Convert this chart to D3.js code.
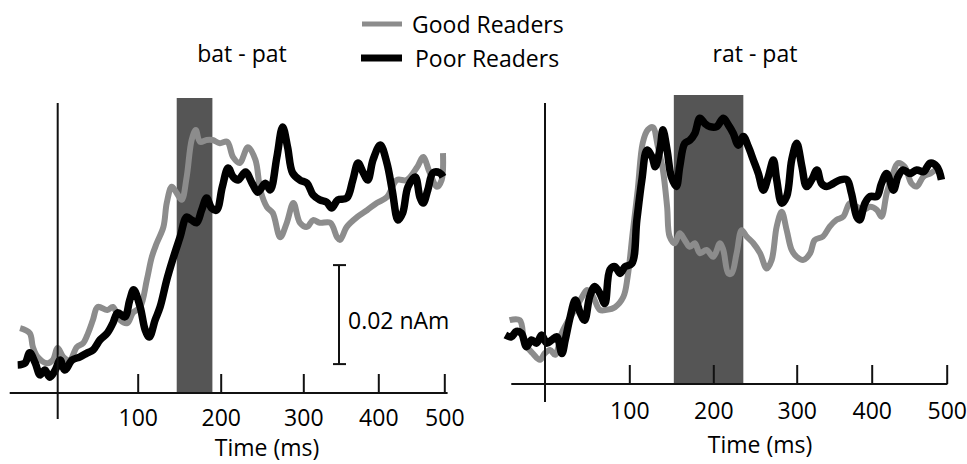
<!DOCTYPE html>
<html>
<head>
<meta charset="utf-8">
<script src="https://cdn.jsdelivr.net/npm/d3@7"></script>
<style>
  body { margin: 0; background: #fff; }
  text { font-family: "Open Sans", sans-serif; fill: #000; }
</style>
</head>
<body>
<div id="wrapper"></div>
<script>
// time in ms, amplitude in nAm
const tickValues = [100, 200, 300, 400, 500];
const seriesNames = ["Good Readers", "Poor Readers"];

// bat - pat
const batGoodTime = [-47,-35,-31,-25,-13,-6,0,7,15,24,32,38,44,50,62,69,78,87,94,103,111,117,123,131,135,141,147,153,159,165,170,175,183,190,199,208,215,223,233,242,248,256,263,272,280,288,296,305,313,322,336,345,349,358,372,385,398,413,428,443,459,468,478,489,496,498];
const batGoodVal = [0.0082,0.0071,0.0040,0.0018,0.0004,0.0011,0.0038,0.0018,0.0011,0.0040,0.0049,0.0071,0.0100,0.0129,0.0122,0.0129,0.0100,0.0093,0.0116,0.0129,0.0189,0.0240,0.0271,0.0307,0.0360,0.0396,0.0382,0.0367,0.0418,0.0500,0.0522,0.0496,0.0500,0.0500,0.0493,0.0496,0.0462,0.0449,0.0484,0.0456,0.0389,0.0351,0.0338,0.0284,0.0316,0.0360,0.0316,0.0307,0.0322,0.0316,0.0316,0.0284,0.0278,0.0307,0.0329,0.0344,0.0360,0.0373,0.0411,0.0411,0.0440,0.0462,0.0427,0.0396,0.0411,0.0471];
const batPoorTime = [-50,-41,-35,-28,-22,-16,-10,-3,3,9,18,28,37,44,53,62,69,75,84,90,95,103,109,114,121,127,135,142,151,159,165,171,177,183,189,195,202,209,215,221,230,238,245,254,260,268,275,281,287,296,305,313,322,331,338,346,358,366,373,380,386,393,403,413,421,430,437,445,456,463,468,475,483,493,498];
const batPoorVal = [0.0000,0.0004,0.0027,0.0004,-0.0022,-0.0011,-0.0027,-0.0011,0.0011,-0.0011,0.0011,0.0018,0.0027,0.0033,0.0056,0.0071,0.0093,0.0116,0.0107,0.0144,0.0167,0.0129,0.0078,0.0062,0.0100,0.0129,0.0189,0.0233,0.0284,0.0329,0.0322,0.0316,0.0344,0.0371,0.0349,0.0344,0.0396,0.0438,0.0418,0.0411,0.0429,0.0404,0.0384,0.0404,0.0389,0.0462,0.0529,0.0484,0.0427,0.0411,0.0404,0.0378,0.0367,0.0362,0.0349,0.0367,0.0371,0.0411,0.0449,0.0427,0.0411,0.0456,0.0489,0.0449,0.0389,0.0322,0.0338,0.0396,0.0418,0.0373,0.0360,0.0389,0.0427,0.0427,0.0418];
const batShade = [147, 190];

// rat - pat
const ratGoodTime = [-42,-30,-24,-15,-6,0,6,12,20,26,33,42,50,57,65,73,83,93,98,104,110,116,122,128,134,140,145,148,154,160,166,172,178,184,192,200,208,212,218,222,228,234,240,248,256,264,270,276,282,288,294,300,309,318,324,335,344,353,362,371,380,389,398,407,413,420,427,435,444,453,460,469,478,487,493];
const ratGoodVal = [0.0044,0.0044,-0.0007,-0.0029,-0.0044,-0.0029,-0.0022,-0.0033,0.0016,0.0038,0.0060,0.0089,0.0111,0.0096,0.0067,0.0067,0.0073,0.0096,0.0140,0.0238,0.0333,0.0438,0.0467,0.0473,0.0430,0.0378,0.0296,0.0230,0.0215,0.0237,0.0222,0.0207,0.0215,0.0193,0.0200,0.0185,0.0215,0.0200,0.0148,0.0148,0.0193,0.0244,0.0230,0.0215,0.0193,0.0159,0.0178,0.0252,0.0285,0.0244,0.0200,0.0185,0.0178,0.0193,0.0222,0.0230,0.0252,0.0267,0.0274,0.0304,0.0296,0.0289,0.0296,0.0289,0.0274,0.0326,0.0363,0.0393,0.0385,0.0348,0.0341,0.0363,0.0370,0.0378,0.0363];
const ratPoorTime = [-47,-40,-34,-28,-22,-16,-10,-4,2,8,14,20,24,30,36,42,47,53,59,65,71,77,83,89,95,103,109,115,121,127,131,137,140,145,150,156,160,166,172,178,184,190,196,204,212,218,224,230,236,242,248,254,260,266,272,276,282,288,294,300,307,313,320,327,333,340,349,358,367,373,380,384,391,398,407,413,420,429,435,442,451,460,469,478,487,493];
const ratPoorVal = [0.0011,0.0007,0.0019,0.0015,-0.0015,0.0000,-0.0007,0.0011,-0.0007,0.0000,0.0007,-0.0030,0.0000,0.0052,0.0089,0.0059,0.0044,0.0096,0.0119,0.0104,0.0081,0.0156,0.0163,0.0148,0.0163,0.0170,0.0267,0.0356,0.0422,0.0407,0.0385,0.0430,0.0467,0.0422,0.0363,0.0341,0.0385,0.0437,0.0444,0.0459,0.0493,0.0481,0.0474,0.0474,0.0493,0.0478,0.0459,0.0433,0.0452,0.0430,0.0400,0.0370,0.0333,0.0363,0.0400,0.0356,0.0304,0.0319,0.0400,0.0437,0.0385,0.0341,0.0356,0.0378,0.0348,0.0341,0.0348,0.0356,0.0356,0.0326,0.0274,0.0267,0.0304,0.0319,0.0319,0.0348,0.0370,0.0333,0.0363,0.0378,0.0370,0.0378,0.0374,0.0393,0.0385,0.0356];
const ratShade = [153, 236];

const panels = [
    {
        title: "bat - pat", good: [batGoodTime, batGoodVal], poor: [batPoorTime, batPoorVal], shade: batShade,
        xRange: [57.7, 137.7, 220.7, 303.3, 378.3, 444.3], y0: 365, axisY: 393, axisSpan: [-60, 505],
        vTop: 103, vBottom: 419, shadeTop: 98, labelPad: 17, titleX: 242, titleY: 62, xTitleX: 267, xTitleY: 456
    },
    {
        title: "rat - pat", good: [ratGoodTime, ratGoodVal], poor: [ratPoorTime, ratPoorVal], shade: ratShade,
        xRange: [545, 629.3, 713.3, 796.7, 871.7, 946.7], y0: 340, axisY: 384, axisSpan: [-40, 501],
        vTop: 103, vBottom: 402, shadeTop: 95, labelPad: 19, titleX: 755, titleY: 62, xTitleX: 760, xTitleY: 453
    }
];

const width = 967, height = 464;
const pxPerNAm = 4500;
const fontSize = 23;

const svg = d3.select("#wrapper").append("svg")
    .attr("width", width)
    .attr("height", height);

panels.forEach(p => {
    const x = d3.scaleLinear().domain([0].concat(tickValues)).range(p.xRange);
    const y = d3.scaleLinear().domain([0, 0.02]).range([p.y0, p.y0 - 0.02 * pxPerNAm]);
    const g = svg.append("g");

    // shaded window
    g.append("rect")
        .attr("x", x(p.shade[0]))
        .attr("y", p.shadeTop)
        .attr("width", x(p.shade[1]) - x(p.shade[0]))
        .attr("height", p.axisY - p.shadeTop)
        .attr("fill", "#555");

    const line = d3.line()
        .x(d => x(d[0]))
        .y(d => y(d[1]))
        .curve(d3.curveCatmullRom);

    g.append("path")
        .attr("d", line(d3.zip(p.good[0], p.good[1])))
        .attr("fill", "none")
        .attr("stroke", "#8c8c8c")
        .attr("stroke-width", 6)
        .attr("stroke-linejoin", "round");

    g.append("path")
        .attr("d", line(d3.zip(p.poor[0], p.poor[1])))
        .attr("fill", "none")
        .attr("stroke", "#000")
        .attr("stroke-width", 7.5)
        .attr("stroke-linejoin", "round");

    // axes
    g.append("line")
        .attr("x1", x(p.axisSpan[0])).attr("x2", x(p.axisSpan[1]))
        .attr("y1", p.axisY).attr("y2", p.axisY)
        .attr("stroke", "#111").attr("stroke-width", 2);
    g.append("line")
        .attr("x1", x(0)).attr("x2", x(0))
        .attr("y1", p.vTop).attr("y2", p.vBottom)
        .attr("stroke", "#111").attr("stroke-width", 2);

    const axis = d3.axisBottom(x)
        .tickValues(tickValues)
        .tickSizeInner(-19)
        .tickSizeOuter(0)
        .tickPadding(p.labelPad);
    const ax = g.append("g")
        .attr("transform", `translate(0,${p.axisY})`)
        .call(axis);
    ax.select(".domain").remove();
    ax.selectAll(".tick line").attr("stroke", "#111").attr("stroke-width", 2);
    ax.selectAll(".tick text")
        .attr("font-family", "Open Sans, sans-serif")
        .attr("font-size", fontSize)
        .attr("fill", "#000");

    g.append("text")
        .attr("x", p.xTitleX).attr("y", p.xTitleY)
        .attr("text-anchor", "middle")
        .attr("font-size", fontSize)
        .text("Time (ms)");

    g.append("text")
        .attr("x", p.titleX).attr("y", p.titleY)
        .attr("text-anchor", "middle")
        .attr("font-size", fontSize)
        .text(p.title);

    // scale bar on the first panel
    if (p === panels[0]) {
        const sx = 339;
        const bar = g.append("g").attr("stroke", "#111").attr("stroke-width", 2);
        bar.append("line").attr("x1", sx).attr("x2", sx).attr("y1", y(0.0222)).attr("y2", y(0.0002));
        bar.append("line").attr("x1", sx - 6).attr("x2", sx + 7).attr("y1", y(0.0222)).attr("y2", y(0.0222));
        bar.append("line").attr("x1", sx - 6).attr("x2", sx + 7).attr("y1", y(0.0002)).attr("y2", y(0.0002));
        g.append("text")
            .attr("x", 348).attr("y", 329)
            .attr("font-size", fontSize)
            .text("0.02 nAm");
    }
});

// legend
const legend = svg.append("g");
const legendItems = [
    { name: seriesNames[0], color: "#8c8c8c", w: 5, x: 362, y: 24, tx: 412, ty: 33 },
    { name: seriesNames[1], color: "#000", w: 7, x: 361, y: 58, tx: 415, ty: 67 }
];
legendItems.forEach(d => {
    legend.append("line")
        .attr("x1", d.x).attr("x2", 402)
        .attr("y1", d.y).attr("y2", d.y)
        .attr("stroke", d.color).attr("stroke-width", d.w);
    legend.append("text")
        .attr("x", d.tx).attr("y", d.ty)
        .attr("font-size", fontSize)
        .text(d.name);
});
</script>
</body>
</html>
